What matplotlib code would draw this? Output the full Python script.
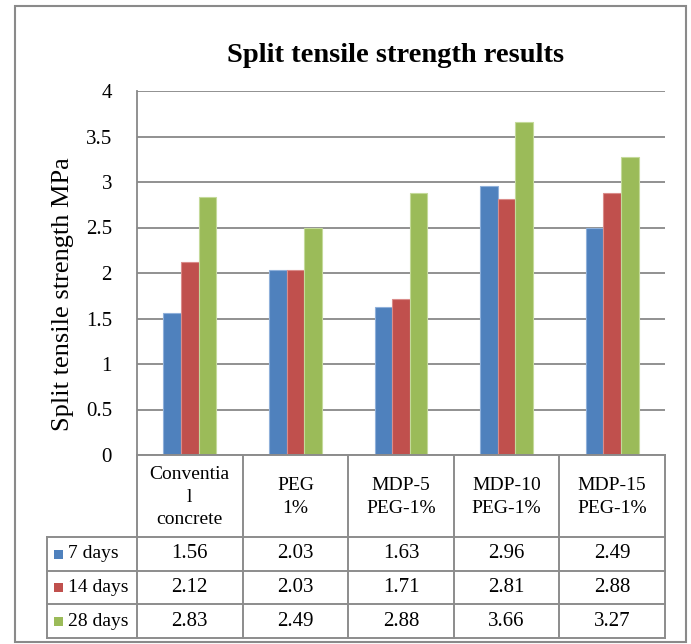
import matplotlib
matplotlib.use("Agg")
import matplotlib.pyplot as plt
import numpy as np
from matplotlib.patches import Rectangle

plt.rcParams['font.family'] = ['Liberation Serif', 'DejaVu Serif']

# ---- data ----
categories = ["Conventia\nl\nconcrete", "PEG\n1%", "MDP-5\nPEG-1%", "MDP-10\nPEG-1%", "MDP-15\nPEG-1%"]
series_names = ["7 days", "14 days", "28 days"]
days7 = [1.56, 2.03, 1.63, 2.96, 2.49]
days14 = [2.12, 2.03, 1.71, 2.81, 2.88]
days28 = [2.83, 2.49, 2.88, 3.66, 3.27]
yticks = [0, 0.5, 1, 1.5, 2, 2.5, 3, 3.5, 4]
ytick_labels = ["0", "0.5", "1", "1.5", "2", "2.5", "3", "3.5", "4"]
title = "Split tensile strength results"
ylabel = "Split tensile strength MPa"

colors = ["#4F81BD", "#C0504D", "#9BBB59"]
edge_colors = ["#8FB0DA", "#DA8C8A", "#C4DA9A"]
grid_col = "#888888"

W, H = 691, 644
fig = plt.figure(figsize=(W / 100, H / 100), dpi=100)

# plot area in pixels
pl, pr, pt, pb = 137, 665, 91, 455
ax = fig.add_axes([pl / W, 1 - pb / H, (pr - pl) / W, (pb - pt) / H])
series = [days7, days14, days28]
n = len(categories)
x = np.arange(n)
bw = 1 / 6
for i, vals in enumerate(series):
    ax.bar(x + (i - 1) * bw, vals, width=bw, color=colors[i], edgecolor=edge_colors[i],
           linewidth=0.8, zorder=3)
ax.set_xlim(-0.5, n - 0.5)
ax.set_ylim(0, 4)
ax.set_yticks(yticks)
ax.set_yticklabels(ytick_labels, fontsize=15)
ax.tick_params(axis='y', length=0, pad=18)
ax.set_xticks([])
ax.grid(axis='y', color=grid_col, linewidth=1.3, zorder=0)
for s in ['top', 'right', 'bottom']:
    ax.spines[s].set_visible(False)
ax.spines['left'].set_color(grid_col)
ax.spines['left'].set_linewidth(1.3)
ax.set_ylabel(ylabel, fontsize=19)
ax.yaxis.set_label_coords((63 - pl) / (pr - pl), (pb - 294) / (pb - pt))
ax.yaxis.label.set_va('center')

# overlay in pixel coords
ov2 = fig.add_axes([0, 0, 1, 1], zorder=5)
ov2.set_xlim(0, W)
ov2.set_ylim(H, 0)
ov2.axis('off')

# outer border
ov2.add_patch(Rectangle((15, 6), 671, 636, fill=False, edgecolor="#8a8a8a", linewidth=1.5))

ov2.text(396, 55, title, ha='center', va='center', fontsize=20.5, fontweight='bold')

# table
lc = "#8c8c8c"
lw = 1.4
colx = np.linspace(pl, pr, n + 1)
hdr_top, hdr_bot = 455, 537
row_edges = [537, 571, 604, 638]
lab_left = 47
ov2.plot([pl, pr], [hdr_top, hdr_top], color=lc, lw=lw)
for y in row_edges:
    ov2.plot([lab_left, pr], [y, y], color=lc, lw=lw)
for xx in colx:
    ov2.plot([xx, xx], [hdr_top, row_edges[-1]], color=lc, lw=lw)
ov2.plot([lab_left, lab_left], [row_edges[0], row_edges[-1]], color=lc, lw=lw)

for j, c in enumerate(categories):
    ov2.text((colx[j] + colx[j + 1]) / 2, (hdr_top + hdr_bot) / 2 + 1, c, ha='center', va='center',
             fontsize=14, linespacing=1.45)
for i, (name, vals) in enumerate(zip(series_names, series)):
    yc = (row_edges[i] + row_edges[i + 1]) / 2
    ov2.add_patch(Rectangle((54, yc - 4.5), 9, 9, facecolor=colors[i], edgecolor='none'))
    ov2.text(68, yc, name, ha='left', va='center', fontsize=14)
    for j, v in enumerate(vals):
        ov2.text((colx[j] + colx[j + 1]) / 2, yc, f"{v:.2f}", ha='center', va='center', fontsize=15)

fig.savefig("out.png", dpi=100, facecolor='white')
